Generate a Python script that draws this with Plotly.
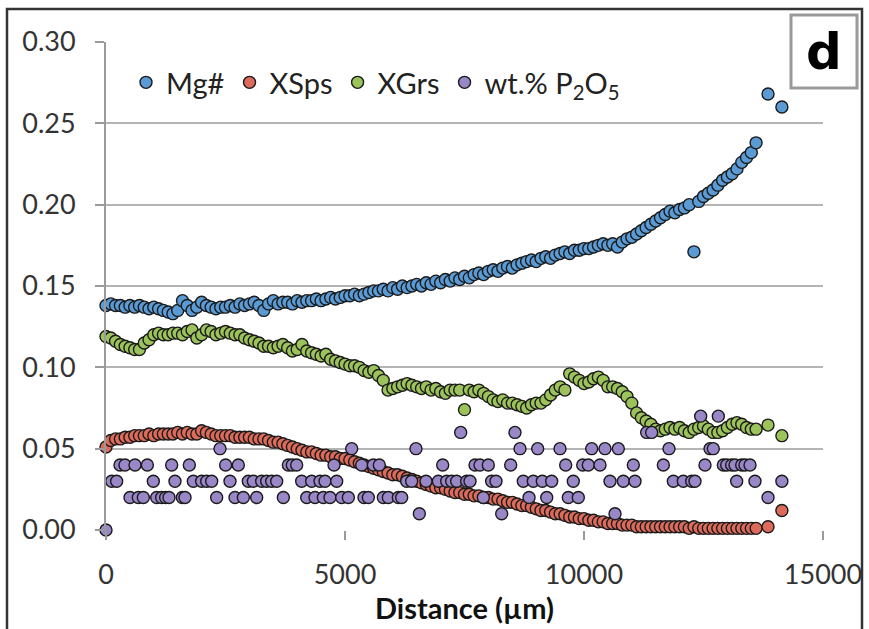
import plotly.graph_objects as go

# ---- data ----
distance = [0, 100, 200, 300, 400, 500, 600, 700, 800, 900,
            1000, 1100, 1200, 1300, 1400, 1500, 1600, 1700, 1800, 1900,
            2000, 2100, 2200, 2300, 2400, 2500, 2600, 2700, 2800, 2900,
            3000, 3100, 3200, 3300, 3400, 3500, 3600, 3700, 3800, 3900,
            4000, 4100, 4200, 4300, 4400, 4500, 4600, 4700, 4800, 4900,
            5000, 5100, 5200, 5300, 5400, 5500, 5600, 5700, 5800, 5900,
            6000, 6100, 6200, 6300, 6400, 6500, 6600, 6700, 6800, 6900,
            7000, 7100, 7200, 7300, 7400, 7500, 7600, 7700, 7800, 7900,
            8000, 8100, 8200, 8300, 8400, 8500, 8600, 8700, 8800, 8900,
            9000, 9100, 9200, 9300, 9400, 9500, 9600, 9700, 9800, 9900,
            10000, 10100, 10200, 10300, 10400, 10500, 10600, 10700, 10800, 10900,
            11000, 11100, 11200, 11300, 11400, 11500, 11600, 11700, 11800, 11900,
            12000, 12100, 12200, 12300, 12400, 12500, 12600, 12700, 12800, 12900,
            13000, 13100, 13200, 13300, 13400, 13500, 13600,
            13850, 14140]

mg_number = [0.138, 0.139, 0.138, 0.138, 0.137, 0.138, 0.137, 0.138, 0.137, 0.136,
             0.137, 0.136, 0.135, 0.134, 0.133, 0.135, 0.141, 0.138, 0.135, 0.137,
             0.140, 0.138, 0.137, 0.136, 0.137, 0.137, 0.138, 0.137, 0.139, 0.138,
             0.139, 0.140, 0.138, 0.135, 0.139, 0.141, 0.139, 0.140, 0.140, 0.139,
             0.141, 0.140, 0.141, 0.141, 0.142, 0.141, 0.142, 0.143, 0.142, 0.143,
             0.144, 0.144, 0.145, 0.144, 0.145, 0.146, 0.147, 0.147, 0.148, 0.147,
             0.149, 0.148, 0.150, 0.149, 0.150, 0.151, 0.150, 0.152, 0.151, 0.153,
             0.152, 0.154, 0.153, 0.155, 0.154, 0.156, 0.155, 0.157, 0.158, 0.157,
             0.159, 0.160, 0.159, 0.161, 0.162, 0.161, 0.163, 0.164, 0.165, 0.166,
             0.165, 0.167, 0.168, 0.167, 0.169, 0.170, 0.171, 0.170, 0.172, 0.172,
             0.173, 0.173, 0.174, 0.175, 0.176, 0.175, 0.176, 0.174, 0.177, 0.179,
             0.180, 0.182, 0.184, 0.186, 0.188, 0.190, 0.192, 0.194, 0.196, 0.195,
             0.197, 0.198, 0.200, 0.171, 0.202, 0.205, 0.207, 0.209, 0.212, 0.215,
             0.217, 0.219, 0.222, 0.226, 0.229, 0.232, 0.238,
             0.268, 0.260]

x_sps = [0.051, 0.055, 0.056, 0.056, 0.057, 0.057, 0.058, 0.058, 0.058, 0.059,
         0.058, 0.059, 0.059, 0.059, 0.059, 0.060, 0.059, 0.060, 0.059, 0.059,
         0.061, 0.060, 0.059, 0.058, 0.058, 0.058, 0.058, 0.057, 0.057, 0.057,
         0.057, 0.056, 0.056, 0.056, 0.055, 0.054, 0.054, 0.053, 0.052, 0.051,
         0.050, 0.049, 0.048, 0.048, 0.047, 0.046, 0.046, 0.045, 0.045, 0.044,
         0.044, 0.043, 0.042, 0.041, 0.040, 0.039, 0.038, 0.037, 0.036, 0.035,
         0.034, 0.034, 0.033, 0.032, 0.031, 0.030, 0.029, 0.028, 0.027, 0.026,
         0.026, 0.025, 0.024, 0.023, 0.023, 0.022, 0.022, 0.021, 0.021, 0.020,
         0.020, 0.019, 0.019, 0.018, 0.017, 0.017, 0.016, 0.015, 0.015, 0.014,
         0.013, 0.012, 0.012, 0.011, 0.010, 0.010, 0.009, 0.008, 0.008, 0.007,
         0.007, 0.006, 0.006, 0.005, 0.005, 0.004, 0.004, 0.004, 0.003, 0.003,
         0.003, 0.002, 0.002, 0.002, 0.002, 0.002, 0.002, 0.002, 0.002, 0.002,
         0.002, 0.002, 0.001, 0.002, 0.001, 0.001, 0.001, 0.001, 0.001, 0.001,
         0.001, 0.001, 0.001, 0.001, 0.001, 0.001, 0.001,
         0.002, 0.012]

x_grs = [0.119, 0.118, 0.116, 0.114, 0.113, 0.112, 0.111, 0.111, 0.115, 0.117,
         0.120, 0.121, 0.120, 0.120, 0.121, 0.121, 0.120, 0.122, 0.123, 0.118,
         0.120, 0.123, 0.122, 0.120, 0.121, 0.122, 0.121, 0.120, 0.120, 0.118,
         0.117, 0.116, 0.115, 0.113, 0.113, 0.112, 0.113, 0.114, 0.112, 0.110,
         0.111, 0.114, 0.110, 0.109, 0.108, 0.107, 0.108, 0.105, 0.104, 0.103,
         0.102, 0.101, 0.101, 0.100, 0.098, 0.097, 0.098, 0.095, 0.092, 0.086,
         0.087, 0.088, 0.089, 0.090, 0.089, 0.088, 0.087, 0.088, 0.086, 0.087,
         0.085, 0.084, 0.086, 0.086, 0.086, 0.074, 0.086, 0.085, 0.086, 0.084,
         0.082, 0.080, 0.079, 0.080, 0.078, 0.078, 0.077, 0.076, 0.075, 0.077,
         0.078, 0.078, 0.080, 0.083, 0.086, 0.088, 0.086, 0.096, 0.094, 0.092,
         0.090, 0.091, 0.093, 0.094, 0.092, 0.088, 0.088, 0.087, 0.085, 0.082,
         0.078, 0.072, 0.069, 0.067, 0.065, 0.062, 0.061, 0.062, 0.063, 0.062,
         0.063, 0.061, 0.060, 0.062, 0.063, 0.064, 0.062, 0.060, 0.060, 0.061,
         0.063, 0.065, 0.066, 0.065, 0.063, 0.062, 0.062,
         0.0645, 0.058]

p2o5_distance = [0, 119, 223, 293, 397, 502, 607, 676, 781, 865,
                 990, 1060, 1164, 1248, 1318, 1374, 1443, 1597, 1653, 1743,
                 1827, 2001, 2106, 2211, 2315, 2385, 2503, 2594, 2699, 2768,
                 2873, 2977, 3082, 3152, 3257, 3361, 3466, 3571, 3710, 3815,
                 3898, 3989, 4094, 4199, 4303, 4373, 4477, 4547, 4582, 4686,
                 4770, 4826, 4931, 5070, 5140, 5349, 5397, 5488, 5593, 5718,
                 5802, 5907, 6116, 6186, 6290, 6395, 6485, 6555, 6695, 6953,
                 7044, 7127, 7232, 7336, 7420, 7546, 7615, 7720, 7824, 7894,
                 7998, 8068, 8159, 8278, 8466, 8556, 8661, 8730, 8850, 8940,
                 9031, 9128, 9220, 9324, 9498, 9617, 9672, 9776, 9881, 9973,
                 10090, 10161, 10335, 10439, 10544, 10649, 10718, 10823, 11032, 11067,
                 11311, 11416, 11660, 11778, 11869, 12078, 12253, 12322, 12441, 12531,
                 12636, 12705, 12810, 12915, 12985, 13089, 13159, 13194, 13299, 13368,
                 13473, 13577, 13850, 14140]

p2o5 = [0.00, 0.03, 0.03, 0.04, 0.04, 0.02, 0.04, 0.02, 0.02, 0.04,
        0.03, 0.02, 0.02, 0.02, 0.02, 0.04, 0.03, 0.02, 0.02, 0.04,
        0.03, 0.03, 0.03, 0.03, 0.02, 0.05, 0.04, 0.03, 0.02, 0.04,
        0.02, 0.03, 0.03, 0.02, 0.03, 0.03, 0.03, 0.03, 0.02, 0.04,
        0.04, 0.04, 0.03, 0.02, 0.03, 0.02, 0.03, 0.02, 0.03, 0.02,
        0.04, 0.03, 0.02, 0.02, 0.05, 0.04, 0.02, 0.02, 0.04, 0.04,
        0.02, 0.02, 0.02, 0.02, 0.03, 0.03, 0.05, 0.01, 0.03, 0.03,
        0.04, 0.03, 0.03, 0.03, 0.06, 0.03, 0.03, 0.04, 0.04, 0.02,
        0.04, 0.03, 0.03, 0.01, 0.04, 0.06, 0.05, 0.03, 0.02, 0.03,
        0.05, 0.03, 0.02, 0.03, 0.05, 0.04, 0.02, 0.03, 0.02, 0.04,
        0.04, 0.05, 0.04, 0.05, 0.03, 0.01, 0.05, 0.03, 0.04, 0.03,
        0.06, 0.06, 0.04, 0.05, 0.03, 0.03, 0.03, 0.03, 0.07, 0.04,
        0.05, 0.05, 0.07, 0.04, 0.04, 0.04, 0.04, 0.03, 0.04, 0.04,
        0.04, 0.03, 0.02, 0.03]

assert len(distance) == len(mg_number) == len(x_sps) == len(x_grs)
assert len(p2o5_distance) == len(p2o5)

y_ticks = [0.00, 0.05, 0.10, 0.15, 0.20, 0.25, 0.30]
x_ticks = [0, 5000, 10000, 15000]

series = [
    ("Mg#", distance, mg_number, "#5b9bd5"),
    ("XSps", distance, x_sps, "#dc6b5c"),
    ("XGrs", distance, x_grs, "#9cc35b"),
    ("wt.% P<sub>2</sub>O<sub>5</sub>", p2o5_distance, p2o5, "#9a87c7"),
]

fig = go.Figure()
for name, xs, ys, col in series:
    fig.add_trace(go.Scatter(
        x=xs, y=ys, mode="markers", name=name, cliponaxis=False,
        marker=dict(size=12, color=col, line=dict(color="#1a1a1a", width=1.4)),
    ))

FONT = "Lato, 'Open Sans', sans-serif"
ML, MR, MT, MB = 106, 46, 42, 99
W, H = 869, 629
PW, PH = W - ML - MR, H - MT - MB


def px(x):
    return (x - ML) / PW


def py(y):
    return (H - MB - y) / PH


fig.update_layout(
    width=W, height=H,
    margin=dict(l=ML, r=MR, t=MT, b=MB, pad=0, autoexpand=False),
    paper_bgcolor="white", plot_bgcolor="white",
    font=dict(family=FONT, color="#333333"),
    showlegend=True,
    legend=dict(
        orientation="h", x=px(126), y=py(57), xanchor="left", yanchor="top",
        font=dict(size=29, color="#222222", family=FONT),
        bgcolor="rgba(0,0,0,0)", itemwidth=30, tracegroupgap=0,
    ),
    xaxis=dict(
        range=[0, 15000], tickvals=x_ticks, ticktext=[str(v) for v in x_ticks],
        showgrid=False, zeroline=False, showline=False,
        ticks="outside", ticklen=9, tickwidth=1.5, tickcolor="#9a9a9a",
        tickfont=dict(size=27, family=FONT, color="#333333"),
        ticklabelstandoff=12, automargin=False,
        title=dict(text="<b>Distance (µm)</b>", font=dict(size=29, family=FONT, color="#111111"), standoff=2),
    ),
    yaxis=dict(
        range=[0, 0.30], tickvals=y_ticks, ticktext=[f"{v:.2f}" for v in y_ticks],
        showgrid=True, gridcolor="#b4b4b4", gridwidth=2,
        zeroline=False, showline=True, linecolor="#9a9a9a", linewidth=2,
        ticks="outside", ticklen=9, tickwidth=1.5, tickcolor="#9a9a9a",
        tickfont=dict(size=27, family=FONT, color="#333333"),
        ticklabelstandoff=14, automargin=False,
    ),
    shapes=[
        dict(type="rect", xref="paper", yref="paper",
             x0=px(7), x1=px(862), y0=py(660), y1=py(9),
             line=dict(color="#333333", width=2.5), fillcolor="rgba(0,0,0,0)", layer="above"),
        dict(type="rect", xref="paper", yref="paper",
             x0=px(791), x1=px(857), y0=py(88), y1=py(15),
             line=dict(color="#9a9a9a", width=3), fillcolor="white", layer="above"),
    ],
    annotations=[
        dict(text="<b>d</b>", xref="paper", yref="paper",
             x=px(824), y=py(52), xanchor="center", yanchor="middle",
             showarrow=False, font=dict(size=50, color="#000000", family="'DejaVu Sans', sans-serif")),
    ],
)

fig.write_html("out.html", config={"displayModeBar": False},
               post_script="document.body.style.margin='0';document.body.style.padding='0';")
